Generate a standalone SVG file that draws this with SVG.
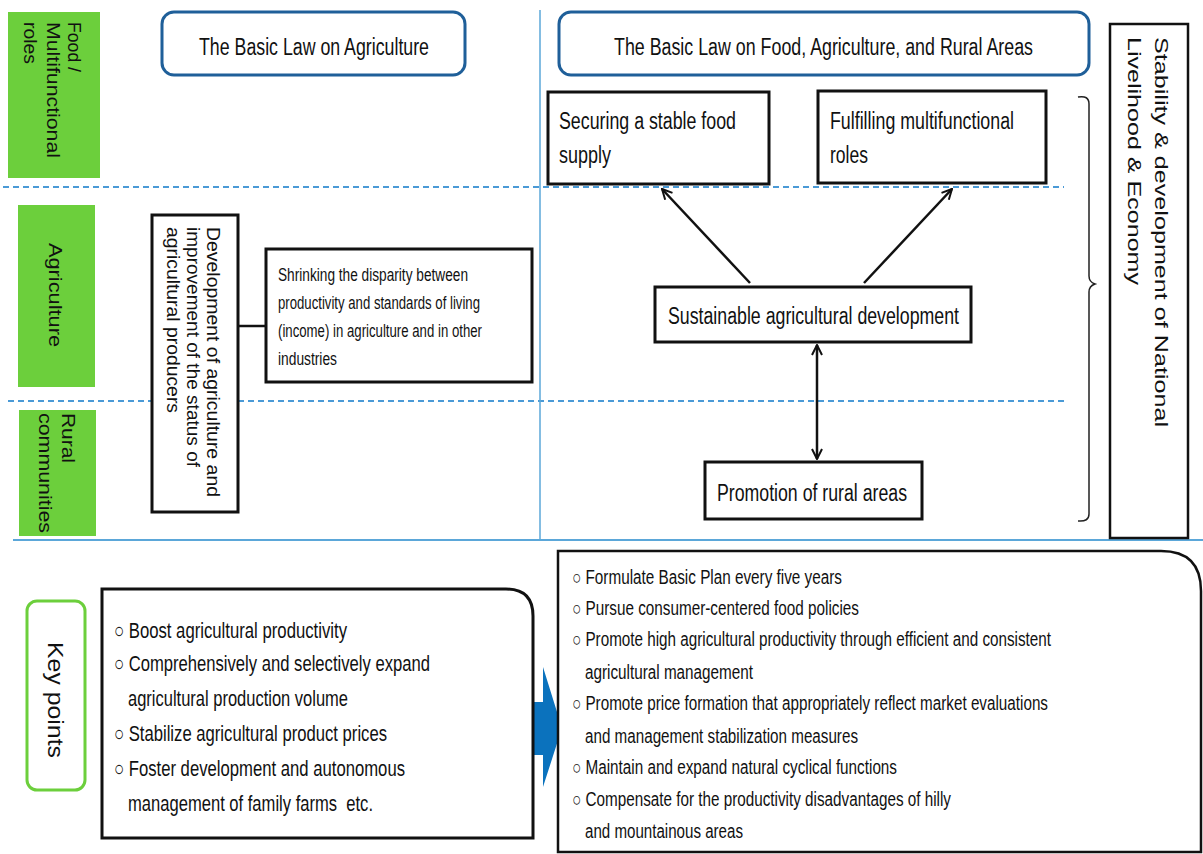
<svg xmlns="http://www.w3.org/2000/svg" width="1203" height="854" viewBox="0 0 1203 854">
<defs>
<style>
text{font-family:"Liberation Sans",Arial,sans-serif;fill:#111}
.lab{fill:#6ccf3c}
.box{fill:#fff;stroke:#111;stroke-width:3}
.law{fill:#fff;stroke:#1f5f99;stroke-width:3}
.dash{stroke:#4a9ad6;stroke-width:2;stroke-dasharray:6 4;fill:none}
.sol{stroke:#5ba7d9;fill:none}
.con{stroke:#111;stroke-width:2.5;fill:none}
.t23{font-size:23px}
.t21{font-size:23px}
.t18{font-size:19px}
.t16{font-size:17.5px}
.t20{font-size:22px}
.rb{font-size:19.5px}
.vl{font-size:18px}
</style>
<marker id="ah" viewBox="0 0 12 12" refX="11" refY="6" markerWidth="12" markerHeight="12" markerUnits="userSpaceOnUse" orient="auto-start-reverse">
<path d="M1,1 L11,6 L1,11" fill="none" stroke="#111" stroke-width="2"/>
</marker>
</defs>
<rect width="1203" height="854" fill="#fff"/>

<g id="guides">
<line class="dash" x1="3" y1="187" x2="1064" y2="187"/>
<line class="dash" x1="8" y1="401" x2="1068" y2="401"/>
<line class="sol" x1="540" y1="10" x2="540" y2="540" stroke-width="1.5"/>
<line class="sol" x1="13" y1="540" x2="1203" y2="540" stroke-width="2"/>
</g>

<g id="label-food">
<rect class="lab" x="8" y="12" width="92" height="166"/>
<text class="t18" transform="translate(68,22) rotate(90)" textLength="50" lengthAdjust="spacingAndGlyphs">Food /</text>
<text class="t18" transform="translate(47,22) rotate(90)" textLength="136" lengthAdjust="spacingAndGlyphs">Multifunctional</text>
<text class="t18" transform="translate(24,22) rotate(90)" textLength="42" lengthAdjust="spacingAndGlyphs">roles</text>
</g>
<g id="label-agriculture">
<rect class="lab" x="18" y="205" width="77" height="182"/>
<text class="t18" transform="translate(49,243) rotate(90)" textLength="104" lengthAdjust="spacingAndGlyphs">Agriculture</text>
</g>
<g id="label-rural">
<rect class="lab" x="19" y="410" width="77" height="126"/>
<text class="t18" transform="translate(62,413) rotate(90)" textLength="50" lengthAdjust="spacingAndGlyphs">Rural</text>
<text class="t18" transform="translate(39,413) rotate(90)" textLength="120" lengthAdjust="spacingAndGlyphs">communities</text>
</g>

<g id="law-old">
<rect class="law" x="162" y="12" width="303" height="63" rx="12"/>
<text class="t23" x="199" y="55" textLength="230" lengthAdjust="spacingAndGlyphs">The Basic Law on Agriculture</text>
</g>
<g id="law-new">
<rect class="law" x="559" y="12" width="530" height="63" rx="12"/>
<text class="t23" x="614" y="55" textLength="419" lengthAdjust="spacingAndGlyphs">The Basic Law on Food, Agriculture, and Rural Areas</text>
</g>

<g id="dev-box">
<rect class="box" x="152" y="215" width="86" height="297"/>
<text class="vl" transform="translate(207,227) rotate(90)" textLength="270" lengthAdjust="spacingAndGlyphs">Development of agriculture and</text>
<text class="vl" transform="translate(187,227) rotate(90)" textLength="240" lengthAdjust="spacingAndGlyphs">improvement of the status of</text>
<text class="vl" transform="translate(167,227) rotate(90)" textLength="186" lengthAdjust="spacingAndGlyphs">agricultural producers</text>
</g>
<g id="shrink-box">
<rect class="box" x="266" y="249" width="266" height="133"/>
<text class="t16" x="278" y="281" textLength="190" lengthAdjust="spacingAndGlyphs">Shrinking the disparity between</text>
<text class="t16" x="278" y="309" textLength="202" lengthAdjust="spacingAndGlyphs">productivity and standards of living</text>
<text class="t16" x="278" y="337" textLength="204" lengthAdjust="spacingAndGlyphs">(income) in agriculture and in other</text>
<text class="t16" x="278" y="365" textLength="59" lengthAdjust="spacingAndGlyphs">industries</text>
</g>

<g id="securing">
<rect class="box" x="548" y="92" width="221" height="92"/>
<text class="t21" x="559" y="129" textLength="177" lengthAdjust="spacingAndGlyphs">Securing a stable food</text>
<text class="t21" x="559" y="163" textLength="52" lengthAdjust="spacingAndGlyphs">supply</text>
</g>
<g id="fulfilling">
<rect class="box" x="818" y="91" width="228" height="92"/>
<text class="t21" x="830" y="129" textLength="184" lengthAdjust="spacingAndGlyphs">Fulfilling multifunctional</text>
<text class="t21" x="830" y="163" textLength="38" lengthAdjust="spacingAndGlyphs">roles</text>
</g>
<g id="sustainable">
<rect class="box" x="655" y="287" width="316" height="55"/>
<text class="t21" x="668" y="324" textLength="291" lengthAdjust="spacingAndGlyphs">Sustainable agricultural development</text>
</g>
<g id="promotion">
<rect class="box" x="705" y="462" width="217" height="57"/>
<text class="t21" x="717" y="501" textLength="190" lengthAdjust="spacingAndGlyphs">Promotion of rural areas</text>
</g>

<g id="stability">
<rect fill="#fff" stroke="#111" stroke-width="2.5" x="1110" y="24" width="78" height="514"/>
<text class="t18" transform="translate(1155,37) rotate(90)" textLength="390" lengthAdjust="spacingAndGlyphs">Stability &amp; development of National</text>
<text class="t18" transform="translate(1128,37) rotate(90)" textLength="248" lengthAdjust="spacingAndGlyphs">Livelihood &amp; Economy</text>
</g>

<g id="connectors">
<line class="con" x1="238" y1="326" x2="266" y2="326"/>
<line class="con" x1="750" y1="283" x2="662" y2="189" marker-end="url(#ah)"/>
<line class="con" x1="864" y1="283" x2="952" y2="189" marker-end="url(#ah)"/>
<line class="con" x1="817" y1="345" x2="817" y2="459" marker-start="url(#ah)" marker-end="url(#ah)"/>
<path d="M1078,97 Q1089,95 1089,104 L1089,276 Q1089,282 1095,284 Q1089,286 1089,292 L1089,514 Q1089,522 1078,521" fill="none" stroke="#222" stroke-width="1.5"/>
<polygon points="525,702 543,702 543,667 562,728 543,787 543,755 525,755" fill="#0b72bd"/>
</g>

<g id="key-points">
<rect x="27" y="601" width="58" height="189" rx="10" fill="#fff" stroke="#6ccf3c" stroke-width="3"/>
<text class="t20" transform="translate(48,642) rotate(90)" textLength="116" lengthAdjust="spacingAndGlyphs">Key points</text>
</g>

<g id="old-points">
<path class="box" d="M102,589 L506,589 Q533,589 533,616 L533,838 L102,838 Z"/>
<text class="t20" x="114" y="638" textLength="233" lengthAdjust="spacingAndGlyphs">○ Boost agricultural productivity</text>
<text class="t20" x="114" y="671" textLength="316" lengthAdjust="spacingAndGlyphs">○ Comprehensively and selectively expand</text>
<text class="t20" x="128" y="706" textLength="220" lengthAdjust="spacingAndGlyphs">agricultural production volume</text>
<text class="t20" x="114" y="741" textLength="273" lengthAdjust="spacingAndGlyphs">○ Stabilize agricultural product prices</text>
<text class="t20" x="114" y="776" textLength="291" lengthAdjust="spacingAndGlyphs">○ Foster development and autonomous</text>
<text class="t20" x="128" y="811" textLength="245" lengthAdjust="spacingAndGlyphs">management of family farms&#160; etc.</text>
</g>

<g id="new-points">
<path class="box" style="stroke-width:2.5" d="M558,551 L1161,551 Q1201,551 1201,591 L1201,852 L558,852 Z"/>
<text class="rb" x="572" y="584" textLength="270" lengthAdjust="spacingAndGlyphs">○ Formulate Basic Plan every five years</text>
<text class="rb" x="572" y="615" textLength="287" lengthAdjust="spacingAndGlyphs">○ Pursue consumer-centered food policies</text>
<text class="rb" x="572" y="646" textLength="479" lengthAdjust="spacingAndGlyphs">○ Promote high agricultural productivity through efficient and consistent</text>
<text class="rb" x="585" y="679" textLength="168" lengthAdjust="spacingAndGlyphs">agricultural management</text>
<text class="rb" x="572" y="710" textLength="476" lengthAdjust="spacingAndGlyphs">○ Promote price formation that appropriately reflect market evaluations</text>
<text class="rb" x="585" y="743" textLength="273" lengthAdjust="spacingAndGlyphs">and management stabilization measures</text>
<text class="rb" x="572" y="774" textLength="325" lengthAdjust="spacingAndGlyphs">○ Maintain and expand natural cyclical functions</text>
<text class="rb" x="572" y="806" textLength="379" lengthAdjust="spacingAndGlyphs">○ Compensate for the productivity disadvantages of hilly</text>
<text class="rb" x="585" y="838" textLength="158" lengthAdjust="spacingAndGlyphs">and mountainous areas</text>
</g>
</svg>
